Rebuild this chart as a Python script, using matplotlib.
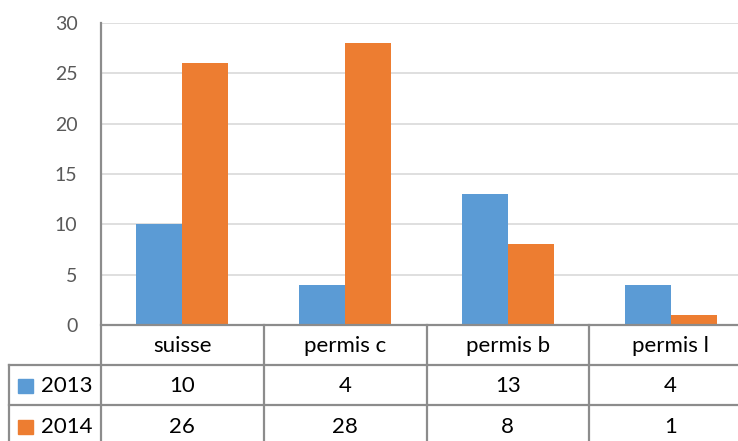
import matplotlib.pyplot as plt
import numpy as np

plt.rcParams['font.family'] = ['Lato', 'DejaVu Sans']

categories = ["suisse", "permis c", "permis b", "permis l"]
series_names = ["2013", "2014"]
vals_2013 = [10, 4, 13, 4]
vals_2014 = [26, 28, 8, 1]
colors = ["#5B9BD5", "#ED7D31"]

W, H = 738, 441
fig = plt.figure(figsize=(W / 100, H / 100), dpi=100)

# plot area in pixels (chart runs a little past the right edge of the image)
left, right, top, base = 101, 752, 23, 325
ax = fig.add_axes([left / W, 1 - base / H, (right - left) / W, (base - top) / H])

x = np.arange(len(categories))
bw = 0.283
ax.bar(x - bw / 2, vals_2013, bw, color=colors[0], zorder=3)
ax.bar(x + bw / 2, vals_2014, bw, color=colors[1], zorder=3)
ax.set_xlim(-0.5, len(categories) - 0.5)
ax.set_ylim(0, 30)
ax.set_yticks(range(0, 31, 5))
ax.set_xticks([])
ax.yaxis.grid(True, color="#D9D9D9", linewidth=1.2, zorder=0)
ax.tick_params(axis='y', length=0, pad=17, labelsize=14, labelcolor="#595959")
for s in ax.spines.values():
    s.set_visible(False)

# overlay in pixel coordinates for the data table
ov = fig.add_axes([0, 0, 1, 1], zorder=5)
ov.set_xlim(0, W)
ov.set_ylim(H, 0)
ov.axis('off')
ov.patch.set_alpha(0)

lc = "#8C8C8C"
lw = 1.6
col_edges = np.linspace(left, right, len(categories) + 1)
row_y = [325, 365, 405, 445]

ov.plot([left, left], [top, H], color=lc, lw=lw)
ov.plot([left, right], [row_y[0], row_y[0]], color=lc, lw=lw)
for yy in row_y[1:3]:
    ov.plot([9, right], [yy, yy], color=lc, lw=lw)
ov.plot([9, 9], [row_y[1], H], color=lc, lw=lw)
for xx in col_edges[1:-1]:
    ov.plot([xx, xx], [row_y[0], H], color=lc, lw=lw)

fs = 16
centers = (col_edges[:-1] + col_edges[1:]) / 2
for c, name in zip(centers, categories):
    ov.text(c, 346, name, ha='center', va='center', fontsize=fs, color="black")

for r, (name, vals, col) in enumerate(zip(series_names, [vals_2013, vals_2014], colors)):
    yc = 386 if r == 0 else 427
    ov.add_patch(plt.Rectangle((18, yc - 7), 15, 14, color=col))
    ov.text(41, yc, name, ha='left', va='center', fontsize=fs, color="black")
    for c, v in zip(centers, vals):
        ov.text(c, yc, str(v), ha='center', va='center', fontsize=fs, color="black")

fig.savefig("out.png", dpi=100)
